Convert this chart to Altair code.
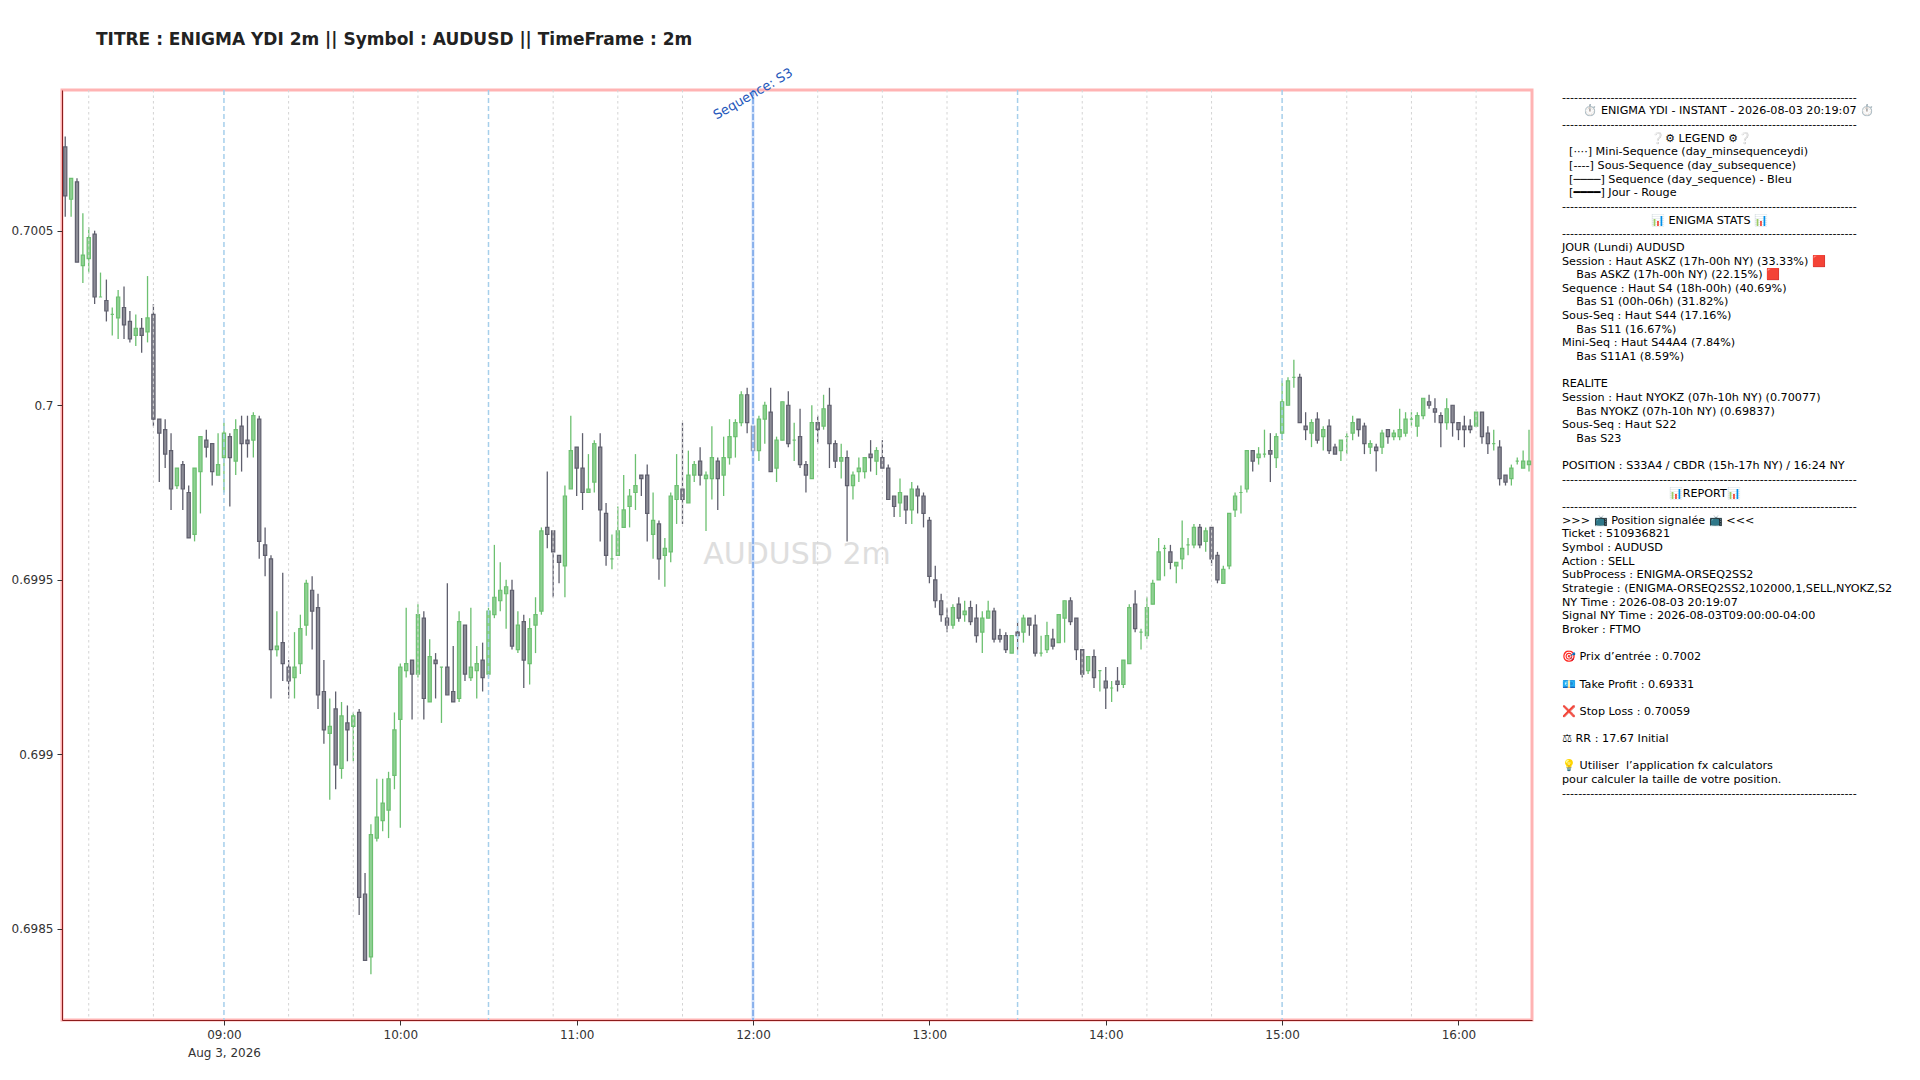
import altair as alt
import pandas as pd

BASE_PRICE = 0.698
POINT = 0.00001
first_candle = "2026-08-03T08:06:00"

# prices, in points above BASE_PRICE
opens = [274,259,264,240,242,249,231,230,226,225,
228,224,220,222,221,226,196,193,187,177,
183,175,163,181,190,189,180,185,191,184,
194,190,190,196,160,156,130,132,125,122,
126,137,147,142,118,106,113,96,109,108,
112,60,42,76,81,84,94,110,124,127,
123,139,115,127,125,125,118,116,137,122,
124,127,123,140,144,146,147,130,138,126,
137,141,165,164,157,154,176,188,182,175,
178,188,169,156,157,165,171,175,180,180,
163,166,157,158,173,176,172,180,184,179,
179,184,180,185,191,195,203,194,187,196,
198,182,190,200,190,191,183,179,195,194,
200,189,184,185,177,181,181,186,184,185,
182,174,172,174,170,176,174,167,150,144,
139,137,143,140,142,139,135,139,141,134,
134,129,135,135,139,137,129,130,133,132,
139,144,139,130,124,128,124,121,119,121,
120,126,143,135,134,143,150,159,158,154,
156,160,160,165,161,165,157,149,154,170,
175,176,187,185,186,187,185,192,200,208,
208,194,192,196,191,194,188,187,191,192,
196,194,188,188,188,193,191,191,192,196,
194,197,201,199,197,195,200,195,194,194,
194,198,192,189,188,180,179,184,182,183]
closes = [260,265,241,243,248,231,231,227,226,231,
223,219,222,220,225,196,192,186,176,182,
176,162,182,191,188,181,183,192,185,193,
189,189,197,161,157,130,131,126,121,125,
136,149,141,117,107,108,97,111,107,111,
59,41,77,82,86,93,107,125,126,123,
140,116,128,126,125,117,115,138,123,125,
126,122,141,145,147,148,131,137,127,136,
140,164,163,158,155,174,187,182,175,176,
189,170,157,156,164,170,174,177,179,169,
167,156,159,174,177,173,180,183,180,180,
185,179,185,191,195,203,195,187,196,200,
181,190,201,189,190,183,180,195,193,199,
189,184,185,177,180,182,185,185,187,182,
173,171,175,170,176,174,169,151,144,140,
137,142,139,141,138,134,139,141,133,133,
130,134,134,139,137,129,129,134,131,140,
144,138,130,123,128,122,124,119,119,120,
127,142,136,135,142,149,158,159,155,155,
159,160,165,160,164,156,150,153,169,174,
175,187,184,186,186,186,191,201,207,208,
195,193,195,190,193,187,186,190,191,195,
193,189,189,187,192,191,192,193,196,196,
197,202,200,198,195,199,195,193,193,193,
198,191,189,189,179,178,182,184,184,184]
highs = [277,265,265,255,251,250,238,236,228,233,
234,227,226,225,237,229,196,196,192,182,
184,177,182,191,193,189,192,195,192,196,
197,197,198,197,165,157,141,152,127,135,
140,150,151,146,127,116,118,115,114,112,
113,66,80,93,93,95,112,126,142,127,
143,141,133,129,125,149,131,141,137,142,
131,132,142,160,155,150,150,141,140,139,
145,165,181,164,157,177,197,188,192,186,
190,192,172,163,171,180,176,186,180,183,
175,167,162,175,186,195,187,184,188,181,
194,185,191,196,196,204,205,194,197,201,
205,191,201,204,195,199,184,200,197,203,
205,190,189,187,181,185,185,190,188,190,
183,174,179,174,178,177,175,168,154,146,
142,143,145,144,144,143,141,144,142,136,
135,134,138,140,139,140,134,138,136,140,
144,145,139,130,128,130,124,125,121,125,
127,143,147,136,145,150,162,160,160,155,
167,162,166,166,165,165,158,154,169,175,
177,187,187,188,193,192,192,207,208,213,
209,198,196,198,194,196,189,190,192,197,
196,195,190,189,193,193,193,199,198,198,
198,202,203,202,198,202,200,195,197,196,
198,198,194,193,190,180,183,185,187,193]
lows = [254,254,241,235,238,229,231,224,220,219,
219,218,217,215,218,194,178,182,170,176,
170,162,161,169,185,177,180,175,171,180,
181,185,185,156,151,116,128,121,116,116,
123,134,130,113,103,87,90,93,98,98,
54,41,37,75,78,76,90,79,122,110,
122,110,115,116,109,117,115,115,121,121,
116,118,122,139,141,136,130,129,119,120,
129,140,159,145,149,145,176,174,170,175,
175,161,154,153,157,165,165,170,174,161,
156,150,148,155,166,166,172,178,177,164,
173,170,174,183,185,194,192,183,184,189,
181,178,190,188,184,182,175,179,189,193,
182,182,179,161,173,178,179,181,180,182,
173,168,168,166,166,169,165,149,142,138,
135,136,138,138,137,132,129,139,132,132,
129,129,130,132,134,128,128,129,130,132,
132,137,127,122,123,119,118,113,115,118,
119,126,135,130,133,143,150,151,153,149,
153,157,159,159,158,154,149,149,153,168,
169,175,181,183,185,178,182,190,200,205,
195,190,188,189,187,186,186,184,186,190,
191,186,186,181,186,189,190,190,191,194,
191,196,199,195,188,193,191,190,188,192,
194,189,186,187,177,177,177,183,182,181]

mini_seq_times = ["08:14","08:36","09:22","09:44","10:06","10:52","11:14","11:36",
                  "12:22","12:44","13:06","13:52","14:14","14:36","15:22","15:44","16:06"]
sub_seq_times = ["09:00","10:30","13:30","15:00"]
seq_times = ["12:00"]
x_ticks = ["09:00","10:00","11:00","12:00","13:00","14:00","15:00","16:00"]
y_ticks = [0.6985, 0.699, 0.6995, 0.7, 0.7005]

title_text = "TITRE : ENIGMA YDI 2m || Symbol : AUDUSD || TimeFrame : 2m"
watermark = "AUDUSD 2m"
seq_label = "Sequence: S3"

DASH = "-" * 73
panel_lines = [
    DASH,
    "      ⏱\ufe0f ENIGMA YDI - INSTANT - 2026-08-03 20:19:07 ⏱\ufe0f",
    DASH,
    "                         ❔⚙ LEGEND ⚙❔",
    "  [····] Mini-Sequence (day_minsequenceydi)",
    "  [----] Sous-Sequence (day_subsequence)",
    "  [────] Sequence (day_sequence) - Bleu",
    "  [━━━━] Jour - Rouge",
    DASH,
    "                         📊 ENIGMA STATS 📊",
    DASH,
    "JOUR (Lundi) AUDUSD",
    "Session : Haut ASKZ (17h-00h NY) (33.33%) 🟥",
    "    Bas ASKZ (17h-00h NY) (22.15%) 🟥",
    "Sequence : Haut S4 (18h-00h) (40.69%)",
    "    Bas S1 (00h-06h) (31.82%)",
    "Sous-Seq : Haut S44 (17.16%)",
    "    Bas S11 (16.67%)",
    "Mini-Seq : Haut S44A4 (7.84%)",
    "    Bas S11A1 (8.59%)",
    "",
    "REALITE",
    "Session : Haut NYOKZ (07h-10h NY) (0.70077)",
    "    Bas NYOKZ (07h-10h NY) (0.69837)",
    "Sous-Seq : Haut S22",
    "    Bas S23",
    "",
    "POSITION : S33A4 / CBDR (15h-17h NY) / 16:24 NY",
    DASH,
    "                              📊REPORT📊",
    DASH,
    ">>> 📺 Position signalée 📺 <<<",
    "Ticket : 510936821",
    "Symbol : AUDUSD",
    "Action : SELL",
    "SubProcess : ENIGMA-ORSEQ2SS2",
    "Strategie : (ENIGMA-ORSEQ2SS2,102000,1,SELL,NYOKZ,S2",
    "NY Time : 2026-08-03 20:19:07",
    "Signal NY Time : 2026-08-03T09:00:00-04:00",
    "Broker : FTMO",
    "",
    "🎯 Prix d’entrée : 0.7002",
    "",
    "💶 Take Profit : 0.69331",
    "",
    "❌ Stop Loss : 0.70059",
    "",
    "⚖ RR : 17.67 Initial",
    "",
    "💡 Utiliser  l’application fx calculators",
    "pour calculer la taille de votre position.",
    DASH,
]

FONT = "DejaVu Sans"
DAY = "2026-08-03T"
times = pd.date_range(first_candle, periods=len(opens), freq="2min")
df = pd.DataFrame({
    "t": times.strftime("%Y-%m-%dT%H:%M:%S"),
    "open": [round(BASE_PRICE + v * POINT, 5) for v in opens],
    "close": [round(BASE_PRICE + v * POINT, 5) for v in closes],
    "high": [round(BASE_PRICE + v * POINT, 5) for v in highs],
    "low": [round(BASE_PRICE + v * POINT, 5) for v in lows],
})
df["dir"] = ["up" if c >= o else "down" for o, c in zip(opens, closes)]

x_scale = alt.Scale(domain=[DAY + "08:04:54", DAY + "16:25:01"], nice=False, padding=0)
y_scale = alt.Scale(domain=[0.698239, 0.700903], nice=False, zero=False)

x_axis = alt.Axis(
    title=None, grid=False, values=[DAY + t + ":00" for t in x_ticks],
    labelExpr="hours(datum.value)==9 ? ['09:00','Aug 3, 2026'] : timeFormat(datum.value,'%H:%M')",
    labelOverlap=False, labelFlush=False, labelFont=FONT, labelFontSize=12, labelColor="#333333",
    tickColor="#333333", tickSize=5, domainColor="#8c1c1c", domainWidth=1, labelPadding=4,
    labelLineHeight=18, zindex=1,
)
y_axis = alt.Axis(
    title=None, grid=False, values=y_ticks, format=".4~f", labelFont=FONT, labelFontSize=12,
    labelColor="#333333", tickColor="#333333", tickSize=5, domainColor="#8c1c1c", domainWidth=1,
    labelPadding=4, zindex=1,
)

base = alt.Chart(df)
dir_scale_stroke = alt.Scale(domain=["up", "down"], range=["#6cc070", "#5f5f6d"])
dir_scale_fill = alt.Scale(domain=["up", "down"], range=["#8fd093", "#8c8c96"])

frame = alt.Chart(pd.DataFrame({"a": [0]})).mark_rect(
    fill="#ffffff", fillOpacity=0, stroke="#ffb3b3", strokeWidth=3
).encode(x=alt.value(0), x2=alt.value(1470), y=alt.value(0), y2=alt.value(930))

wicks = base.mark_rule(strokeWidth=1.3).encode(
    x=alt.X("t:T", scale=x_scale, axis=x_axis),
    y=alt.Y("low:Q", scale=y_scale, axis=y_axis),
    y2="high:Q",
    color=alt.Color("dir:N", scale=dir_scale_stroke, legend=None),
)
bodies = base.mark_bar(size=3.2, strokeWidth=1.2).encode(
    x=alt.X("t:T", scale=x_scale),
    y=alt.Y("open:Q", scale=y_scale),
    y2="close:Q",
    fill=alt.Fill("dir:N", scale=dir_scale_fill, legend=None),
    stroke=alt.Stroke("dir:N", scale=dir_scale_stroke, legend=None),
)


def vlines(ts, **style):
    d = pd.DataFrame({"t": [DAY + t + ":00" for t in ts]})
    return alt.Chart(d).mark_rule(**style).encode(x=alt.X("t:T", scale=x_scale))


mini = vlines(mini_seq_times, color="#d4d4d4", strokeWidth=1, strokeDash=[2.5, 3])
subs = vlines(sub_seq_times, color="#a6cfeb", strokeWidth=1.5, strokeDash=[5, 3])
seq_band = vlines(seq_times, color="#cfdffa", strokeWidth=3)
seq_line = vlines(seq_times, color="#6f9fe6", strokeWidth=1.4, strokeDash=[6, 2])

seq_text = alt.Chart(pd.DataFrame({"t": [DAY + "12:00:00"], "label": [seq_label]})).mark_text(
    angle=330, font=FONT, fontSize=13, color="#2458bb", align="center", baseline="middle",
).encode(x=alt.X("t:T", scale=x_scale), y=alt.value(4), text="label:N")

wm = alt.Chart(pd.DataFrame({"label": [watermark]})).mark_text(
    font=FONT, fontSize=30, color="#dedede", align="center", baseline="middle",
).encode(x=alt.value(735), y=alt.value(465), text="label:N")


def keep_spaces(s):
    # a zero-width lead keeps the indentation from being trimmed away
    return "\u200b" + s.replace(" ", "\u00a0") if s.startswith(" ") else s.replace(" ", "\u00a0")


panel_df = pd.DataFrame({
    "line": list(range(len(panel_lines))),
    "text": [keep_spaces(s) for s in panel_lines],
})
panel = alt.Chart(panel_df).mark_text(
    font=FONT, fontSize=11.2, color="#000000", align="left", baseline="middle",
).encode(
    x=alt.value(1500),
    y=alt.Y("line:Q", axis=None, scale=alt.Scale(domain=[0, 51], range=[7.8, 703.7])),
    text="text:N",
)

main = alt.layer(frame, wicks, bodies, wm, mini, subs, seq_band, seq_line, seq_text)

chart = alt.layer(main, panel).resolve_scale(y="independent").properties(
    width=1470, height=930,
    title=alt.Title(title_text, anchor="start", dx=34, offset=17.5, font=FONT, fontSize=17,
                    fontWeight="bold", color="#222222", frame="group"),
    autosize=alt.AutoSizeParams(type="none"),
    padding={"left": 54, "top": 82, "right": 380, "bottom": 50},
).configure_view(stroke=None).configure(background="white")

chart.save("out.html", embed_options={"renderer": "svg", "actions": False})
